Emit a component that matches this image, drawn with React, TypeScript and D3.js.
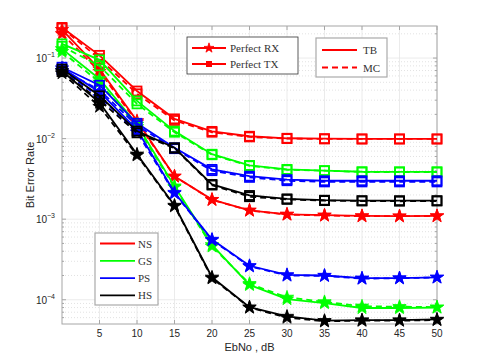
import React, { useRef, useEffect } from "react";
import * as d3 from "d3";

// EbNo axis values (dB)
const ebno = [0, 5, 10, 15, 20, 25, 30, 35, 40, 45, 50];
const xTicks = [5, 10, 15, 20, 25, 30, 35, 40, 45, 50];
const yTicks = [1e-1, 1e-2, 1e-3, 1e-4];

// NS (red)
const nsTxTb = [0.24, 0.108, 0.039, 0.0176, 0.0123, 0.0107, 0.0101, 0.01, 0.0099, 0.0099, 0.0099];
const nsTxMc = [0.235, 0.098, 0.036, 0.0168, 0.012, 0.0105, 0.01, 0.0099, 0.0099, 0.0099, 0.0099];
const nsRxTb = [0.225, 0.073, 0.0166, 0.0034, 0.00175, 0.00129, 0.00115, 0.00112, 0.0011, 0.00109, 0.0011];
const nsRxMc = [0.2, 0.068, 0.016, 0.0034, 0.00174, 0.00128, 0.00114, 0.00111, 0.00109, 0.00109, 0.00109];
// GS (green)
const gsTxTb = [0.15, 0.095, 0.0294, 0.0124, 0.0064, 0.00465, 0.00415, 0.004, 0.00388, 0.00387, 0.00387];
const gsTxMc = [0.14, 0.08, 0.027, 0.012, 0.0063, 0.0046, 0.0041, 0.004, 0.00385, 0.00385, 0.00385];
const gsRxTb = [0.13, 0.055, 0.015, 0.00257, 0.00048, 0.000153, 0.000102, 9.1e-5, 7.9e-5, 7.9e-5, 8.0e-5];
const gsRxMc = [0.12, 0.05, 0.014, 0.0025, 0.00046, 0.000158, 0.000107, 9.4e-5, 8.3e-5, 8.2e-5, 8.1e-5];
// PS (blue)
const psTxTb = [0.077, 0.046, 0.0155, 0.0077, 0.00415, 0.00342, 0.0031, 0.003, 0.003, 0.003, 0.003];
const psTxMc = [0.072, 0.04, 0.0145, 0.0075, 0.004, 0.0033, 0.003, 0.0029, 0.0029, 0.0029, 0.0029];
const psRxTb = [0.075, 0.038, 0.013, 0.00214, 0.00056, 0.000264, 0.000204, 0.0002, 0.000185, 0.000186, 0.00019];
const psRxMc = [0.07, 0.033, 0.012, 0.0021, 0.00055, 0.00026, 0.0002, 0.000198, 0.000183, 0.000185, 0.000189];
// HS (black)
const hsTxTb = [0.073, 0.034, 0.0124, 0.0077, 0.0027, 0.00197, 0.00179, 0.00172, 0.0017, 0.0017, 0.0017];
const hsTxMc = [0.068, 0.03, 0.0118, 0.0076, 0.00265, 0.0019, 0.00176, 0.0017, 0.00168, 0.00167, 0.00168];
const hsRxTb = [0.069, 0.028, 0.0064, 0.00148, 0.00019, 8.1e-5, 6.2e-5, 5.5e-5, 5.6e-5, 5.6e-5, 5.7e-5];
const hsRxMc = [0.065, 0.025, 0.0062, 0.00145, 0.000185, 8.0e-5, 6.0e-5, 5.4e-5, 5.5e-5, 5.5e-5, 5.6e-5];

const schemes = ["NS", "GS", "PS", "HS"];
const colors = ["#ff0000", "#00ff00", "#0000ff", "#000000"];

const series = [
  { name: "NS", marker: "square", dashed: false, values: nsTxTb },
  { name: "NS", marker: "square", dashed: true, values: nsTxMc },
  { name: "NS", marker: "star", dashed: false, values: nsRxTb },
  { name: "NS", marker: "star", dashed: true, values: nsRxMc },
  { name: "GS", marker: "square", dashed: false, values: gsTxTb },
  { name: "GS", marker: "square", dashed: true, values: gsTxMc },
  { name: "GS", marker: "star", dashed: false, values: gsRxTb },
  { name: "GS", marker: "star", dashed: true, values: gsRxMc },
  { name: "PS", marker: "square", dashed: false, values: psTxTb },
  { name: "PS", marker: "square", dashed: true, values: psTxMc },
  { name: "PS", marker: "star", dashed: false, values: psRxTb },
  { name: "PS", marker: "star", dashed: true, values: psRxMc },
  { name: "HS", marker: "square", dashed: false, values: hsTxTb },
  { name: "HS", marker: "square", dashed: true, values: hsTxMc },
  { name: "HS", marker: "star", dashed: false, values: hsRxTb },
  { name: "HS", marker: "star", dashed: true, values: hsRxMc },
];

const W = 485;
const H = 363;
const margin = { top: 26, right: 48, bottom: 39, left: 62 };

const App = () => {
  const svgRef = useRef<SVGSVGElement>(null);

  useEffect(() => {
    const svg = d3.select(svgRef.current);
    svg.selectAll("*").remove();

    const color = d3.scaleOrdinal<string>().domain(schemes).range(colors);
    const x = d3.scaleLinear().domain([0, 50]).range([margin.left, W - margin.right]);
    const y = d3.scaleLog().domain([5e-5, 0.25]).range([H - margin.bottom, margin.top]);
    const [x0, x1] = x.range();
    const [y0, y1] = y.range();

    svg.append("rect").attr("width", W).attr("height", H).attr("fill", "#fff");

    // grid
    const grid = svg.append("g");
    const minors: number[] = [];
    for (let e = -5; e <= -1; e++) {
      for (let m = 2; m <= 9; m++) {
        const v = m * Math.pow(10, e);
        if (v > 5e-5 && v < 0.25) minors.push(v);
      }
    }
    grid.selectAll(".minor").data(minors).join("line")
      .attr("x1", x0).attr("x2", x1)
      .attr("y1", (d) => y(d)).attr("y2", (d) => y(d))
      .attr("stroke", "#cfcfcf").attr("stroke-width", 0.6).attr("stroke-dasharray", "1,2");
    grid.selectAll(".majy").data(yTicks).join("line")
      .attr("x1", x0).attr("x2", x1)
      .attr("y1", (d) => y(d)).attr("y2", (d) => y(d))
      .attr("stroke", "#e6e6e6").attr("stroke-width", 0.8);
    grid.selectAll(".majx").data(xTicks).join("line")
      .attr("x1", (d) => x(d)).attr("x2", (d) => x(d))
      .attr("y1", y0).attr("y2", y1)
      .attr("stroke", "#e6e6e6").attr("stroke-width", 0.8);

    // box and ticks
    const axes = svg.append("g").attr("stroke", "#a6a6a6").attr("stroke-width", 1);
    axes.append("rect").attr("x", x0).attr("y", y1).attr("width", x1 - x0).attr("height", y0 - y1)
      .attr("fill", "none");
    xTicks.forEach((t) => {
      axes.append("line").attr("x1", x(t)).attr("x2", x(t)).attr("y1", y0).attr("y2", y0 - 4);
      axes.append("line").attr("x1", x(t)).attr("x2", x(t)).attr("y1", y1).attr("y2", y1 + 4);
    });
    yTicks.forEach((t) => {
      axes.append("line").attr("x1", x0).attr("x2", x0 + 4).attr("y1", y(t)).attr("y2", y(t));
      axes.append("line").attr("x1", x1).attr("x2", x1 - 4).attr("y1", y(t)).attr("y2", y(t));
    });
    minors.forEach((t) => {
      axes.append("line").attr("x1", x0).attr("x2", x0 + 2).attr("y1", y(t)).attr("y2", y(t));
      axes.append("line").attr("x1", x1).attr("x2", x1 - 2).attr("y1", y(t)).attr("y2", y(t));
    });

    // tick labels
    const font = "'Liberation Sans', Arial, sans-serif";
    svg.append("g").selectAll("text").data(xTicks).join("text")
      .attr("x", (d) => x(d)).attr("y", y0 + 13)
      .attr("text-anchor", "middle").attr("font-family", font).attr("font-size", 10)
      .attr("fill", "#262626").text((d) => d);
    const yl = svg.append("g").selectAll("text").data(yTicks).join("text")
      .attr("x", x0 - 7).attr("y", (d) => y(d) + 4)
      .attr("text-anchor", "end").attr("font-family", font).attr("font-size", 10)
      .attr("fill", "#262626");
    yl.append("tspan").text("10");
    yl.append("tspan").attr("dy", -5).attr("font-size", 7).text((d) => "\u2212" + Math.round(-Math.log10(d)));
    svg.append("text").attr("x", (x0 + x1) / 2).attr("y", 351)
      .attr("text-anchor", "middle").attr("font-family", font).attr("font-size", 11)
      .attr("fill", "#262626").text("EbNo , dB");
    svg.append("text").attr("transform", `translate(34,${(y0 + y1) / 2}) rotate(-90)`)
      .attr("text-anchor", "middle").attr("font-family", font).attr("font-size", 11)
      .attr("fill", "#262626").text("Bit Error Rate");

    // curves
    const line = d3.line<number>().x((d, i) => x(ebno[i])).y((d) => y(d));
    const plot = svg.append("g");
    const star = d3.symbol().type(d3.symbolStar).size(55);
    const smallStar = d3.symbol().type(d3.symbolStar).size(30);

    const drawMarker = (g: any, kind: string, c: string, px: number, py: number) => {
      if (kind === "star") {
        g.append("path").attr("d", star()).attr("transform", `translate(${px},${py})`)
          .attr("fill", c).attr("stroke", c).attr("stroke-width", 0.8);
      } else {
        g.append("rect").attr("x", px - 4.5).attr("y", py - 4.5).attr("width", 9).attr("height", 9)
          .attr("fill", "none").attr("stroke", c).attr("stroke-width", 1.8);
      }
    };

    series.forEach((s) => {
      const c = color(s.name);
      const g = plot.append("g");
      g.append("path").attr("d", line(s.values)).attr("fill", "none")
        .attr("stroke", c).attr("stroke-width", 1.8)
        .attr("stroke-dasharray", s.dashed ? "6,4" : null);
      s.values.forEach((v, i) => drawMarker(g, s.marker, c, x(ebno[i]), y(v)));
    });

    // legend: perfect RX / TX
    const serif = "'Liberation Serif', 'Times New Roman', serif";
    const l1 = svg.append("g");
    l1.append("rect").attr("x", 187).attr("y", 37).attr("width", 111).attr("height", 37)
      .attr("fill", "#fff").attr("stroke", "#333").attr("stroke-width", 0.8);
    [["star", "Perfect RX"], ["square", "Perfect TX"]].forEach(([m, t], i) => {
      const ly = 48 + i * 16;
      l1.append("line").attr("x1", 192).attr("x2", 226).attr("y1", ly).attr("y2", ly)
        .attr("stroke", "#ff0000").attr("stroke-width", 1.8);
      if (m === "star") {
        l1.append("path").attr("d", smallStar()).attr("transform", `translate(209,${ly})`)
          .attr("fill", "#ff0000").attr("stroke", "#ff0000").attr("stroke-width", 0.8);
      } else {
        l1.append("rect").attr("x", 206.5).attr("y", ly - 2.5).attr("width", 5).attr("height", 5)
          .attr("fill", "#ff0000").attr("stroke", "#ff0000");
      }
      l1.append("text").attr("x", 230).attr("y", ly + 4).attr("font-family", serif)
        .attr("font-size", 11).attr("fill", "#333").text(t);
    });

    // legend: TB / MC
    const l2 = svg.append("g");
    l2.append("rect").attr("x", 316).attr("y", 38).attr("width", 71).attr("height", 39)
      .attr("fill", "#fff").attr("stroke", "#aaa").attr("stroke-width", 1.2);
    [["TB", false], ["MC", true]].forEach(([t, dashed], i) => {
      const ly = 50 + i * 17.5;
      l2.append("line").attr("x1", 322).attr("x2", 357).attr("y1", ly).attr("y2", ly)
        .attr("stroke", "#ff0000").attr("stroke-width", 1.8)
        .attr("stroke-dasharray", dashed ? "6,4" : null);
      l2.append("text").attr("x", 363).attr("y", ly + 4).attr("font-family", serif)
        .attr("font-size", 11).attr("fill", "#333").text(t as string);
    });

    // legend: schemes
    const l3 = svg.append("g");
    l3.append("rect").attr("x", 95).attr("y", 233).attr("width", 63).attr("height", 72)
      .attr("fill", "#fff").attr("stroke", "#aaa").attr("stroke-width", 1.2);
    schemes.forEach((sname, i) => {
      const ly = 243.5 + i * 17.3;
      l3.append("line").attr("x1", 100).attr("x2", 135).attr("y1", ly).attr("y2", ly)
        .attr("stroke", color(sname)).attr("stroke-width", 1.8);
      l3.append("text").attr("x", 138).attr("y", ly + 4).attr("font-family", serif)
        .attr("font-size", 11).attr("fill", "#333").text(sname);
    });
  }, []);

  return <svg ref={svgRef} width={W} height={H} style={{ display: "block", position: "absolute", left: 0, top: 0 }}></svg>;
};

export default App;
